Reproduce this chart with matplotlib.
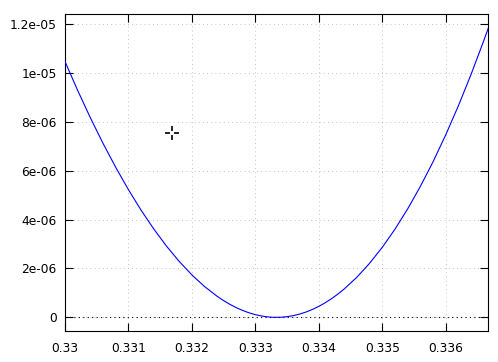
# Parabola-like curve near x = 1/3, gnuplot look
import matplotlib
matplotlib.use("Agg")
import matplotlib.pyplot as plt

x_vals = [0.3300, 0.3302, 0.3304, 0.3306, 0.3308, 0.3310, 0.3312, 0.3314,
          0.3316, 0.3318, 0.3320, 0.3322, 0.3324, 0.3325, 0.3326, 0.3327,
          0.3328, 0.3329, 0.3330, 0.3331, 0.3332, 0.3333, 0.3334, 0.3335,
          0.3336, 0.3337, 0.3338, 0.3339, 0.3340, 0.3341, 0.3342, 0.3343,
          0.3344, 0.3346, 0.3348, 0.3350, 0.3352, 0.3354, 0.3356, 0.3358,
          0.3360, 0.3362, 0.3364, 0.3366, 0.33667]
y_vals = [1.046e-5, 9.277e-6, 8.160e-6, 7.111e-6, 6.131e-6, 5.219e-6, 4.379e-6, 3.610e-6,
          2.912e-6, 2.287e-6, 1.736e-6, 1.258e-6, 8.566e-7, 6.840e-7, 5.307e-7, 3.965e-7,
          2.817e-7, 1.863e-7, 1.104e-7, 5.421e-8, 1.774e-8, 1.11e-9, 4.45e-9, 2.786e-8,
          7.145e-8, 1.353e-7, 2.196e-7, 3.244e-7, 4.498e-7, 5.959e-7, 7.629e-7, 9.508e-7,
          1.160e-6, 1.641e-6, 2.209e-6, 2.862e-6, 3.603e-6, 4.433e-6, 5.351e-6, 6.359e-6,
          7.460e-6, 8.651e-6, 9.936e-6, 1.1314e-5, 1.1819e-5]

cursor_x = 0.331692
cursor_y = 7.55e-6

x_ticks = [0.330, 0.331, 0.332, 0.333, 0.334, 0.335, 0.336]
x_labels = ["0.33", "0.331", "0.332", "0.333", "0.334", "0.335", "0.336"]
y_ticks = [0, 2e-6, 4e-6, 6e-6, 8e-6, 1e-5, 1.2e-5]
y_labels = ["0", "2e-06", "4e-06", "6e-06", "8e-06", "1e-05", "1.2e-05"]

fig = plt.figure(figsize=(4.98, 3.62), dpi=100)
ax = fig.add_axes([0.1305, 0.0848, 0.8495, 0.8757])

ax.plot(x_vals, y_vals, color="#0000ff", lw=0.8, zorder=3)
ax.axhline(0, color="black", lw=0.8, ls=(0, (1, 3)), zorder=2)
# mouse cursor cross with a small gap in the middle
ax.plot([cursor_x], [cursor_y], marker="+", ms=9.5, mew=1.2, color="black", zorder=4)
ax.plot([cursor_x], [cursor_y], marker="s", ms=2.2, mew=0, color="white", zorder=5)

ax.set_xlim(0.33, 0.336667)
ax.set_ylim(-5.7e-7, 1.239e-5)
ax.set_xticks(x_ticks)
ax.set_xticklabels(x_labels)
ax.set_yticks(y_ticks)
ax.set_yticklabels(y_labels)

ax.grid(True, color="#b0b0b0", lw=0.6, ls=(0, (1, 4)), zorder=1)
ax.tick_params(direction="in", length=6, width=0.8, top=True, right=True,
               labelsize=8.8, pad=6, colors="black")
ax.tick_params(axis="x", pad=8)
for s in ax.spines.values():
    s.set_linewidth(0.8)

fig.savefig("out.png", dpi=100)
